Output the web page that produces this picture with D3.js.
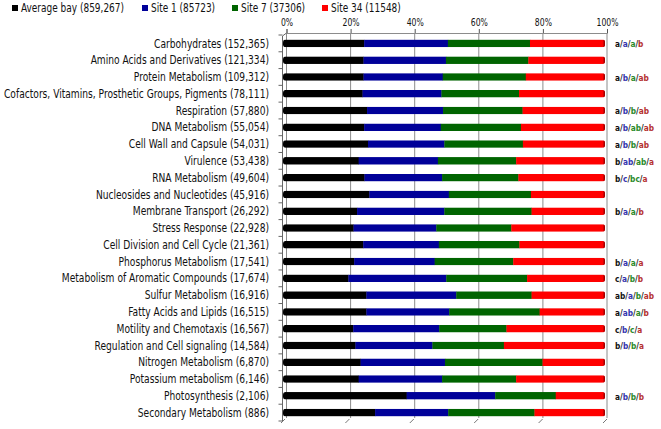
<!DOCTYPE html>
<html>
<head>
<meta charset="utf-8">
<script src="https://cdn.jsdelivr.net/npm/d3@7"></script>
<style>
  html, body { margin: 0; padding: 0; background: #fff; }
  svg { display: block; }
  text { font-family: "Liberation Sans Narrow", "Arial Narrow", "DejaVu Sans Condensed", sans-serif; }
</style>
</head>
<body>
<svg id="chart" width="661" height="429"></svg>
<script>
const categories = [
  "Carbohydrates", "Amino Acids and Derivatives", "Protein Metabolism",
  "Cofactors, Vitamins, Prosthetic Groups, Pigments", "Respiration", "DNA Metabolism",
  "Cell Wall and Capsule", "Virulence", "RNA Metabolism", "Nucleosides and Nucleotides",
  "Membrane Transport", "Stress Response", "Cell Division and Cell Cycle",
  "Phosphorus Metabolism", "Metabolism of Aromatic Compounds", "Sulfur Metabolism",
  "Fatty Acids and Lipids", "Motility and Chemotaxis", "Regulation and Cell signaling",
  "Nitrogen Metabolism", "Potassium metabolism", "Photosynthesis", "Secondary Metabolism"
];
const counts = [
  "152,365", "121,334", "109,312", "78,111", "57,880", "55,054", "54,031", "53,438",
  "49,604", "45,916", "26,292", "22,928", "21,361", "17,541", "17,674", "16,916",
  "16,515", "16,567", "14,584", "6,870", "6,146", "2,106", "886"
];
const seriesNames = ["Average bay (859,267)", "Site 1 (85723)", "Site 7 (37306)", "Site 34 (11548)"];
const seriesColors = ["#000000", "#000099", "#006400", "#ff0000"];
const avgBay = [25.2, 25.0, 25.0, 24.7, 26.1, 25.2, 26.4, 23.5, 25.3, 26.8, 23.0, 21.9, 24.9, 22.1, 20.3, 25.9, 25.9, 21.8, 22.5, 24.1, 23.5, 38.4, 28.6];
const site1  = [26.0, 25.6, 24.6, 24.5, 23.6, 23.8, 23.7, 24.6, 24.1, 24.7, 27.1, 25.7, 23.5, 25.0, 30.4, 27.9, 25.7, 26.7, 23.9, 26.2, 25.9, 27.5, 22.7];
const site7  = [25.5, 25.6, 25.8, 24.1, 24.7, 24.9, 24.4, 24.3, 23.7, 25.5, 27.1, 23.3, 25.0, 24.4, 25.1, 23.4, 28.1, 20.9, 22.2, 30.3, 23.0, 18.8, 26.8];
const site34 = [23.3, 23.8, 24.6, 26.7, 25.6, 26.1, 25.5, 27.6, 26.9, 23.0, 22.8, 29.1, 26.6, 28.5, 24.2, 22.8, 20.3, 30.6, 31.4, 19.4, 27.6, 15.3, 21.9];
const lettersAvg = ["a","","a","","a","a","a","b","b","","b","","","b","c","ab","a","c","b","","","a",""];
const letters1   = ["a","","b","","b","b","b","ab","c","","a","","","a","a","a","ab","b","b","","","b",""];
const letters7   = ["a","","a","","b","ab","b","ab","bc","","a","","","a","b","b","a","c","b","","","b",""];
const letters34  = ["b","","ab","","ab","ab","ab","a","a","","b","","","a","b","ab","b","a","a","","","b",""];
const letterColors = ["#111111", "#3535b0", "#2a8a2a", "#b53030"];
const tickValues = [0, 20, 40, 60, 80, 100];

const svg = d3.select("#chart");

// compress a text group horizontally so a reference text gets its target width
function squeeze(sel, refNode, targetW) {
  const f = Math.min(1, targetW / refNode.getComputedTextLength());
  sel.each(function () {
    const w = this.getComputedTextLength();
    d3.select(this).attr("textLength", w * f).attr("lengthAdjust", "spacingAndGlyphs");
  });
}
// scale a group's font size so a reference text gets its target width
function fitFont(sel, baseSize, refNode, targetW) {
  const s = Math.min(baseSize, baseSize * targetW / refNode.getComputedTextLength());
  sel.attr("font-size", s);
}

const x = d3.scaleLinear().domain([0, 100]).range([283, 605]);
const xBack = d3.scaleLinear().domain([0, 100]).range([286.5, 607]);
const y = d3.scaleBand().domain(categories).range([35, 421]).paddingInner(0.55).paddingOuter(0.275);

// gridlines (back wall)
svg.append("g").selectAll("line").data(tickValues).join("line")
  .attr("x1", d => xBack(d)).attr("x2", d => xBack(d))
  .attr("y1", 33).attr("y2", 418)
  .attr("stroke", "#8c8c8c").attr("stroke-width", 1);

// top axis
const axis = svg.append("g").attr("transform", "translate(0,33)")
  .call(d3.axisTop(xBack).tickValues(tickValues).tickFormat(d => d + "%").tickSize(4).tickPadding(3));
axis.select(".domain").attr("stroke", "#8c8c8c");
axis.selectAll(".tick line").attr("stroke", "#555");
const tickTexts = axis.selectAll("text").attr("font-size", 11).attr("fill", "#111")
  .style("font-family", "'Liberation Sans Narrow', 'Arial Narrow', 'DejaVu Sans Condensed', sans-serif");
squeeze(tickTexts, tickTexts.nodes()[tickTexts.size() - 1], 22);

// left axis & wall corner
svg.append("line").attr("x1", 282.5).attr("x2", 282.5).attr("y1", 36).attr("y2", 421)
  .attr("stroke", "#666");
svg.append("line").attr("x1", 282.5).attr("x2", 286.5).attr("y1", 36).attr("y2", 33)
  .attr("stroke", "#666");
const bounds = categories.map(c => y(c) - y.step() * y.paddingInner() / 2).concat([421]);
svg.append("g").selectAll("line").data(bounds).join("line")
  .attr("x1", 278.5).attr("x2", 282.5).attr("y1", d => d).attr("y2", d => d)
  .attr("stroke", "#666");
// floor edge ticks
svg.append("g").selectAll("line").data(tickValues).join("line")
  .attr("x1", d => x(d) - 2).attr("x2", d => x(d) + 2)
  .attr("y1", 423).attr("y2", 419)
  .attr("stroke", "#777");

// bars
const rows = categories.map((c, i) => {
  const vals = [avgBay[i], site1[i], site7[i], site34[i]];
  const tot = d3.sum(vals);
  let acc = 0;
  return { cat: c, i, segs: vals.map((v, k) => { const s = { k, x0: acc / tot * 100, x1: (acc + v) / tot * 100 }; acc += v; return s; }) };
});
const defs = svg.append("defs");
rows.forEach(r => {
  defs.append("clipPath").attr("id", "clip" + r.i).append("rect")
    .attr("x", x(0)).attr("y", y(r.cat)).attr("width", x(100) - x(0)).attr("height", y.bandwidth())
    .attr("rx", 2.5).attr("ry", 3);
});
const barG = svg.append("g").selectAll("g").data(rows).join("g")
  .attr("clip-path", r => "url(#clip" + r.i + ")");
barG.selectAll("rect").data(r => r.segs.map(s => Object.assign({ cat: r.cat }, s))).join("rect")
  .attr("x", d => x(d.x0)).attr("width", d => x(d.x1) - x(d.x0) + 0.3)
  .attr("y", d => y(d.cat)).attr("height", y.bandwidth())
  .attr("fill", d => seriesColors[d.k]);
barG.append("rect")
  .attr("x", x(100) - 1.5).attr("width", 1.5)
  .attr("y", r => y(r.cat)).attr("height", y.bandwidth())
  .attr("fill", "#a00000");

// category labels
const labels = svg.append("g").selectAll("text").data(categories).join("text")
  .attr("x", 269).attr("y", d => y(d) + y.bandwidth() / 2)
  .attr("dy", "0.36em").attr("text-anchor", "end")
  .attr("font-size", 11.5).attr("fill", "#111")
  .text((d, i) => d + " (" + counts[i] + ")");
squeeze(labels, labels.nodes()[3], 265);

// significance letters
const ann = svg.append("g").selectAll("text").data(categories.map((c, i) => ({ c, i }))
  .filter(d => lettersAvg[d.i] !== "")).join("text")
  .attr("x", 615).attr("y", d => y(d.c) + y.bandwidth() / 2 + 1)
  .attr("dy", "0.36em").attr("font-size", 11).attr("font-weight", 600);
ann.each(function (d) {
  const t = d3.select(this);
  const parts = [lettersAvg[d.i], letters1[d.i], letters7[d.i], letters34[d.i]];
  parts.forEach((p, k) => {
    if (k > 0) t.append("tspan").attr("fill", "#222").text("/");
    t.append("tspan").attr("fill", letterColors[k]).text(p);
  });
});
fitFont(ann, 11, ann.filter(d => d.i === 5).node(), 39);

// legend
const legendX = [12, 142, 232, 322];
const leg = svg.append("g").selectAll("g").data(seriesNames).join("g")
  .attr("transform", (d, i) => "translate(" + legendX[i] + ",8)");
leg.append("rect").attr("x", 0).attr("y", -3).attr("width", 6).attr("height", 6)
  .attr("fill", (d, i) => seriesColors[i]);
const legTexts = leg.append("text").attr("x", 9).attr("dy", "0.36em").attr("font-size", 11.5).attr("fill", "#111")
  .text(d => d);
squeeze(legTexts, legTexts.nodes()[0], 103);
</script>
</body>
</html>
